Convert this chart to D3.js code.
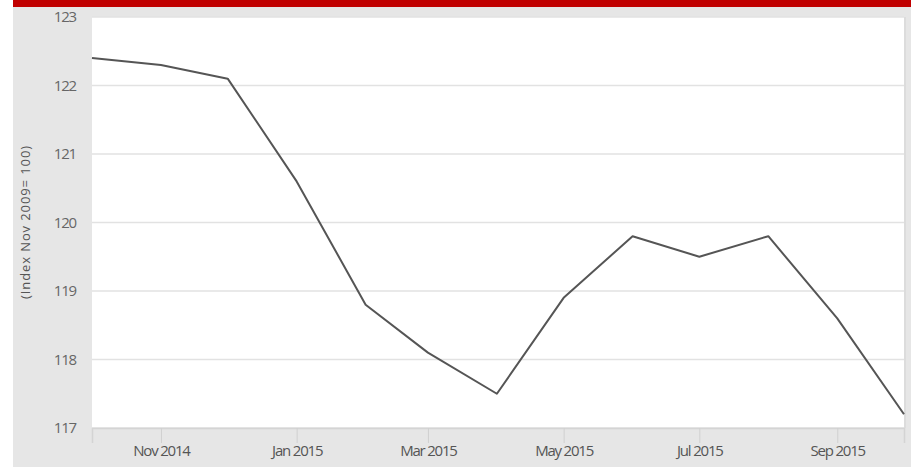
<!DOCTYPE html>
<html><head><meta charset="utf-8">
<script src="https://cdn.jsdelivr.net/npm/d3@7"></script>
<style>
html,body{margin:0;padding:0;background:#fff;}
svg{display:block;}
text{font-family:"Open Sans","Noto Sans",sans-serif;}
</style></head>
<body>
<svg id="c" width="911" height="467"></svg>
<script>
const months = ["2014-10","2014-11","2014-12","2015-01","2015-02","2015-03","2015-04","2015-05","2015-06","2015-07","2015-08","2015-09","2015-10"];
const values = [122.4,122.3,122.1,120.6,118.8,118.1,117.5,118.9,119.8,119.5,119.8,118.6,117.2];
const yTicks = [117,118,119,120,121,122,123];
const xTickLabels = ["Nov 2014","Jan 2015","Mar 2015","May 2015","Jul 2015","Sep 2015"];
const yLabel = "(Index Nov 2009= 100)";

const parse = d3.timeParse("%Y-%m");
const data = months.map((m,i)=>({date:parse(m), value:values[i]}));

const svg = d3.select("#c");
const W=911,H=467;
const L=92,R=904,T=17,B=428;

svg.append("rect").attr("x",13).attr("y",0).attr("width",W-13).attr("height",H).attr("fill","#e6e6e6");
svg.append("rect").attr("x",13).attr("y",0).attr("width",W-13).attr("height",7).attr("fill","#c00000");
svg.append("rect").attr("x",L).attr("y",T).attr("width",R-L+2).attr("height",B-T).attr("fill","#dcdcdc");
svg.append("rect").attr("x",L).attr("y",T).attr("width",R-L).attr("height",B-T).attr("fill","#ffffff");

const x = d3.scaleTime().domain([data[0].date, data[data.length-1].date]).range([L,R]);
const y = d3.scaleLinear().domain([117,123]).range([B,T]);

// grid
svg.append("g").selectAll("line").data(yTicks).join("line")
  .attr("x1",L).attr("x2",R).attr("y1",d=>y(d)).attr("y2",d=>y(d))
  .attr("stroke","#e2e2e2").attr("stroke-width",1.5);

// y axis labels
const yAxis = d3.axisLeft(y).tickValues(yTicks).tickSize(0).tickPadding(16).tickFormat(d3.format("d"));
const gy = svg.append("g").attr("transform",`translate(${L},0)`).call(yAxis);
gy.select(".domain").remove();
gy.selectAll("text").attr("fill","#666").style("font-size","15px").style("letter-spacing","-1.2px");

// x axis
const xTickDates = xTickLabels.map(s=>d3.timeParse("%b %Y")(s));
const xAxis = d3.axisBottom(x).tickValues(xTickDates).tickSize(15).tickPadding(2).tickFormat((d,i)=>xTickLabels[i]);
const gx = svg.append("g").attr("transform",`translate(0,${B})`).call(xAxis);
gx.select(".domain").attr("stroke","#d4d4d4").attr("stroke-width",1.5);
gx.selectAll(".tick line").attr("stroke","#d0d0d0");
gx.selectAll("text").attr("fill","#555").style("font-size","15px").style("letter-spacing","-1.2px");

// y label
svg.append("text").attr("transform","translate(30,222) rotate(-90)")
  .attr("text-anchor","middle").attr("fill","#555").style("font-size","13px").style("letter-spacing","0.9px")
  .text(yLabel);

// line
const line = d3.line().x(d=>x(d.date)).y(d=>y(d.value));
svg.append("path").datum(data).attr("d",line).attr("fill","none")
  .attr("stroke","#555").attr("stroke-width",2).attr("stroke-linejoin","round");
</script>
</body></html>
